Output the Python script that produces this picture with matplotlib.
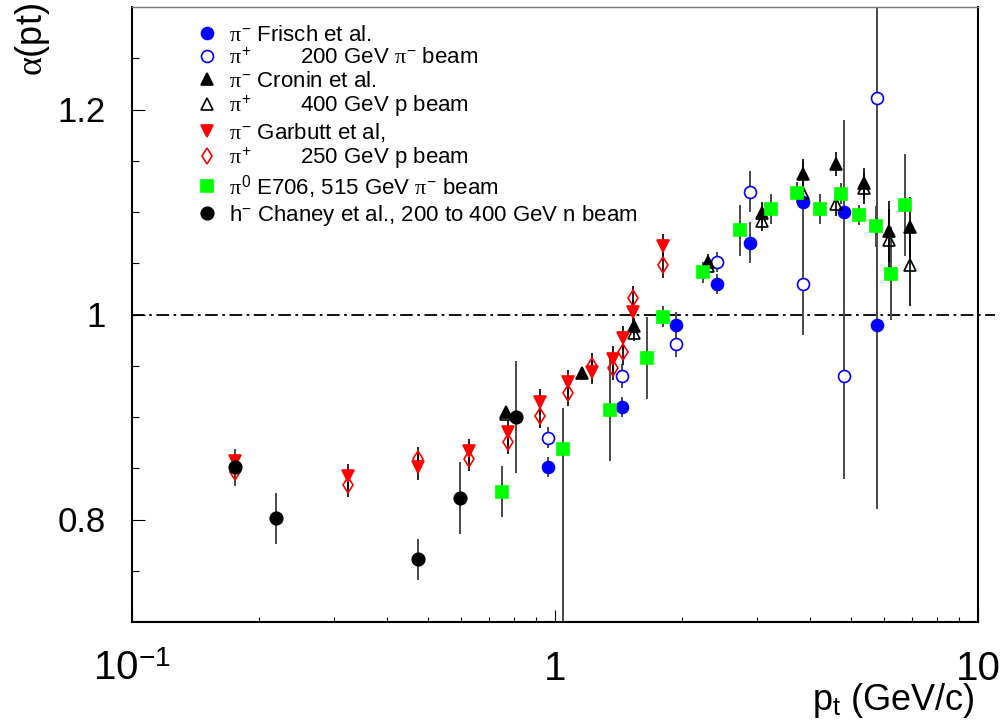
import matplotlib
matplotlib.use('Agg')
import matplotlib.pyplot as plt
from matplotlib.lines import Line2D
from matplotlib.ticker import FixedLocator, NullFormatter, LogLocator

plt.rcParams['font.family'] = ['Liberation Sans', 'DejaVu Sans']
plt.rcParams['mathtext.fontset'] = 'custom'
plt.rcParams['mathtext.rm'] = 'Liberation Sans'
plt.rcParams['mathtext.it'] = 'Liberation Serif'
plt.rcParams['mathtext.bf'] = 'Liberation Sans:bold'

# ---------------- data ----------------
# Frisch et al. (200 GeV pi- beam)
frisch_x = [0.963, 1.44, 1.93, 2.415, 2.89, 3.86, 4.82, 5.77]
frisch_pim_y = [0.851, 0.910, 0.990, 1.030, 1.070, 1.110, 1.100, 0.990]
frisch_pim_err = [0.010, 0.010, 0.012, 0.010, 0.020, 0.040, 0.090, 0.180]
frisch_pip_y = [0.880, 0.940, 0.971, 1.051, 1.120, 1.030, 0.940, 1.211]
frisch_pip_err = [0.010, 0.012, 0.012, 0.010, 0.020, 0.050, 0.100, 0.120]

# Cronin et al. (400 GeV p beam)
cronin_pim_x = [0.766, 1.158, 1.537, 2.30, 3.087, 3.857, 4.62, 5.38, 6.16, 6.91]
cronin_pim_y = [0.905, 0.943, 0.989, 1.051, 1.0995, 1.137, 1.147, 1.128, 1.081, 1.085]
cronin_pim_err = [0.005, 0.005, 0.008, 0.008, 0.010, 0.015, 0.012, 0.015, 0.030, 0.030]
cronin_pip_x = [0.766, 1.537, 2.30, 3.087, 3.857, 4.62, 5.38, 6.16, 6.91]
cronin_pip_y = [0.903, 0.982, 1.047, 1.091, 1.119, 1.108, 1.123, 1.073, 1.048]
cronin_pip_err = [0.005, 0.008, 0.008, 0.010, 0.015, 0.012, 0.015, 0.030, 0.040]

# Garbutt et al. (250 GeV p beam)
garbutt_x = [0.175, 0.324, 0.474, 0.626, 0.774, 0.922, 1.073, 1.223, 1.371, 1.448, 1.529, 1.80]
garbutt_pim_y = [0.857, 0.842, 0.851, 0.867, 0.885, 0.915, 0.934, 0.944, 0.957, 0.977, 1.002, 1.067]
garbutt_pip_y = [0.846, 0.834, 0.859, 0.859, 0.876, 0.901, 0.923, 0.950, 0.948, 0.963, 1.016, 1.048]
garbutt_err = [0.012] * 12

# E706 pi0 (515 GeV pi- beam)
e706_x = [0.749, 1.044, 1.349, 1.650, 1.80, 2.238, 2.737, 3.24, 3.73, 4.23, 4.745, 5.23, 5.74, 6.23, 6.72]
e706_y = [0.827, 0.869, 0.907, 0.958, 0.998, 1.041, 1.082, 1.103, 1.119, 1.103, 1.118, 1.097, 1.086, 1.040, 1.107]
e706_err_lo = [0.025, 0.200, 0.050, 0.040, 0.010, 0.010, 0.025, 0.015, 0.010, 0.015, 0.010, 0.010, 0.020, 0.045, 0.050]
e706_err_hi = [0.025, 0.040, 0.050, 0.040, 0.010, 0.010, 0.025, 0.015, 0.010, 0.015, 0.010, 0.010, 0.020, 0.045, 0.050]

# Chaney et al. h- (200 to 400 GeV n beam)
chaney_x = [0.175, 0.219, 0.474, 0.596, 0.809]
chaney_y = [0.851, 0.801, 0.761, 0.821, 0.900]
chaney_err = [0.018, 0.025, 0.020, 0.035, 0.055]

legend_labels = [
    r'$\pi^{-}$ Frisch et al.',
    r'$\pi^{+}$' + '        200 GeV ' + r'$\pi^{-}$ beam',
    r'$\pi^{-}$ Cronin et al.',
    r'$\pi^{+}$' + '        400 GeV p beam',
    r'$\pi^{-}$ Garbutt et al,',
    r'$\pi^{+}$' + '        250 GeV p beam',
    r'$\pi^{0}$ E706, 515 GeV $\pi^{-}$ beam',
    r'h$^{-}$ Chaney et al., 200 to 400 GeV n beam',
]

# ---------------- figure ----------------
fig = plt.figure(figsize=(10.02, 7.21), dpi=100)
ax = fig.add_axes([132 / 1002, 1 - 622 / 721, (978 - 132) / 1002, (622 - 7) / 721])
ax.set_xscale('log')
ax.set_xlim(0.1, 10)
ax.set_ylim(0.7, 1.3)

ECOL = '#4a4a4a'
MS = 8.6

def errs(x, y, lo, hi, col, lw=1.4):
    ax.errorbar(x, y, yerr=[lo, hi], fmt='none', ecolor=col, elinewidth=lw,
                capsize=0, zorder=2)

errs(frisch_x, frisch_pim_y, frisch_pim_err, frisch_pim_err, ECOL)
errs(frisch_x, frisch_pip_y, frisch_pip_err, frisch_pip_err, ECOL)
errs(cronin_pim_x, cronin_pim_y, cronin_pim_err, cronin_pim_err, 'black', 1.2)
errs(cronin_pip_x, cronin_pip_y, cronin_pip_err, cronin_pip_err, 'black', 1.2)
errs(garbutt_x, garbutt_pim_y, garbutt_err, garbutt_err, 'black', 1.2)
errs(garbutt_x, garbutt_pip_y, garbutt_err, garbutt_err, 'black', 1.2)
errs(e706_x, e706_y, e706_err_lo, e706_err_hi, ECOL)
errs(chaney_x, chaney_y, chaney_err, chaney_err, ECOL)

styles = [
    dict(marker='o', mfc='#0000ff', mec='#0000ff', ms=MS),
    dict(marker='o', mfc='white', mec='#0000ff', ms=MS),
    dict(marker='^', mfc='black', mec='black', ms=MS),
    dict(marker='^', mfc='none', mec='black', ms=MS),
    dict(marker='v', mfc='#ff0000', mec='#ff0000', ms=MS),
    dict(marker='d', mfc='none', mec='#ff0000', ms=MS),
    dict(marker='s', mfc='#00ff00', mec='#00ff00', ms=MS - 0.5),
    dict(marker='o', mfc='black', mec='black', ms=MS + 0.4),
]
series = [
    (frisch_x, frisch_pim_y), (frisch_x, frisch_pip_y),
    (cronin_pim_x, cronin_pim_y), (cronin_pip_x, cronin_pip_y),
    (garbutt_x, garbutt_pim_y), (garbutt_x, garbutt_pip_y),
    (e706_x, e706_y), (chaney_x, chaney_y),
]
for i, ((x, y), st) in enumerate(zip(series, styles)):
    ax.plot(x, y, ls='none', mew=1.2, zorder=3 + i, **st)

# reference line at alpha = 1 (extends a bit beyond the frame)
ax.axhline(1.0, xmin=0, xmax=1.02, color='black', lw=1.3,
           ls=(0, (7, 2.5, 1.5, 2.5)), clip_on=False, zorder=1)

# ticks
ax.set_xticks([0.1, 1, 10], labels=[r'$10^{-1}$', '1', '10'], fontsize=29, va='baseline')
ax.xaxis.set_minor_locator(LogLocator(base=10, subs=[2, 3, 4, 5, 6, 7, 8, 9]))
ax.xaxis.set_minor_formatter(NullFormatter())
ax.set_yticks([0.8, 1.0, 1.2], labels=['0.8', '1', '1.2'], fontsize=25)
ax.yaxis.set_minor_locator(FixedLocator([0.75, 0.85, 0.9, 0.95, 1.05, 1.1, 1.15, 1.25]))
ax.tick_params(axis='x', which='major', direction='in', length=8.6, width=0.8, pad=42)
ax.tick_params(axis='x', which='minor', direction='in', length=3.6, width=0.8)
ax.tick_params(axis='y', which='major', direction='in', length=9.4, width=0.8, pad=19)
ax.tick_params(axis='y', which='minor', direction='in', length=5, width=0.8)
ax.tick_params(top=False, right=False, which='both')

for s in ['left', 'bottom', 'right']:
    ax.spines[s].set_linewidth(1.5)
    ax.spines[s].set_color('black')
ax.spines['top'].set_linewidth(1.0)
ax.spines['top'].set_color('#777777')

# axis titles
fig.text(33 / 1002, 1 - 3 / 721, r'$\alpha$(pt)', rotation=90, ha='center', va='top', fontsize=26)
fig.text(975 / 1002, 1 / 721, r'p$_{\mathrm{t}}$ (GeV/c)', ha='right', va='bottom', fontsize=26)

# legend
handles = [Line2D([], [], ls='none', mew=1.2, **st) for st in styles]
ax.legend(handles, legend_labels, loc='upper left',
          bbox_to_anchor=(196 / 1002, 1 - 25 / 721), bbox_transform=fig.transFigure,
          frameon=False, fontsize=16, handlelength=1.0, handletextpad=0.5,
          borderpad=0, borderaxespad=0, labelspacing=0.09)

fig.savefig('out.png', dpi=100)
